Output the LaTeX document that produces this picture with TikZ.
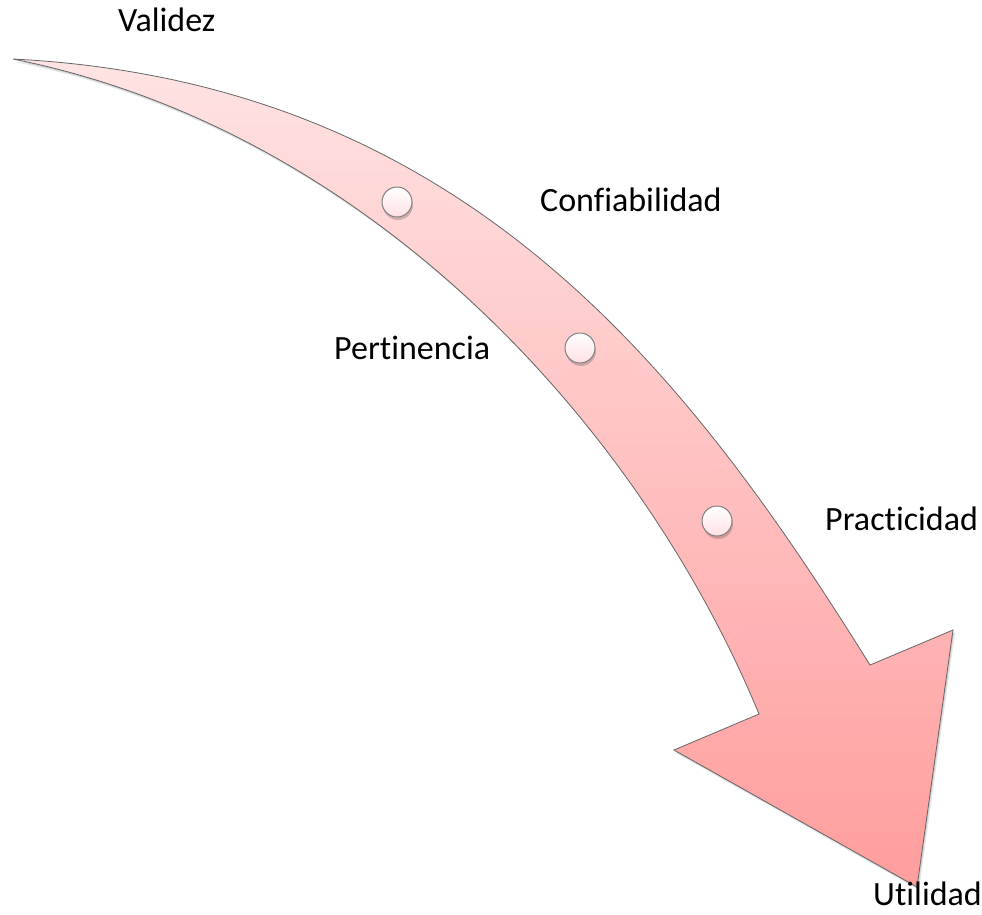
\documentclass[tikz,border=0pt]{standalone}
\usepackage{fontspec}
\setmainfont{Carlito}[Ligatures=NoCommon]
\definecolor{pinktop}{HTML}{FFE3E3}
\definecolor{pinkbot}{HTML}{FF9D9D}
\definecolor{dotbot}{HTML}{FFE0E4}
\newcommand{\ArrowOutline}{(13,59) .. controls (463,82) and (685,368) .. (870,665) -- (953,630) -- (917,887) -- (674,750) -- (759,714) .. controls (641,429) and (373,131) .. (13,59) -- cycle}
\begin{document}
\begin{tikzpicture}[x=1pt,y=-1pt,
  lbl/.style={anchor=base west, inner sep=0pt, font=\fontsize{34}{40}\selectfont},
  band/.style={draw=black!60, line width=0.8pt, top color=pinktop, bottom color=pinkbot},
  dotshape/.style={circle, minimum size=30pt, inner sep=0pt, draw=black!50, line width=1pt, top color=white, bottom color=dotbot},
  dotshadow/.style={circle, minimum size=30pt, inner sep=0pt, fill=black, opacity=0.18}]
\useasboundingbox (0,0) rectangle (982,914);
% arrow shadow
\begin{scope}[shift={(2,3)}]
  \fill[black, opacity=0.10] \ArrowOutline;
\end{scope}
\begin{scope}[shift={(1,1.5)}]
  \fill[black, opacity=0.10] \ArrowOutline;
\end{scope}
% arrow body
\path[band] \ArrowOutline;
% dots
\node[dotshadow] (s1) at (398,205) {};
\node[dotshadow] (s2) at (581,351) {};
\node[dotshadow] (s3) at (718,524) {};
\node[dotshape] (d1) at (397,202) {};
\node[dotshape] (d2) at (580,348) {};
\node[dotshape] (d3) at (717,521) {};
% labels
\node[lbl] (validez) at (118,31) {Validez};
\node[lbl] (confiabilidad) at (540,211) {Confiabilidad};
\node[lbl] (pertinencia) at (334,359) {Pertinencia};
\node[lbl] (practicidad) at (825,530) {Practicidad};
\node[lbl] (utilidad) at (873,905) {Utilidad};
\end{tikzpicture}
\end{document}
